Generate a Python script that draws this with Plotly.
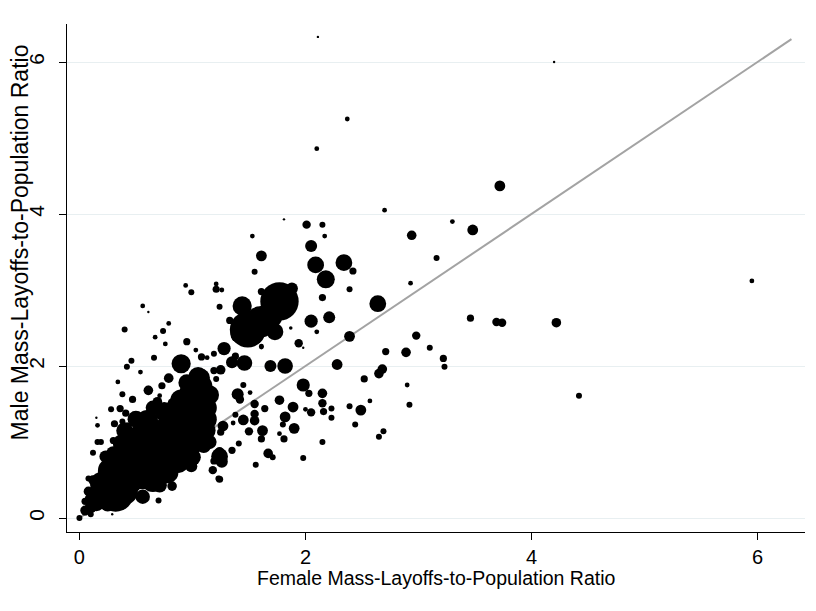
import plotly.graph_objects as go

# Female (x) and male (y) mass-layoffs-to-population ratios, marker weight
female = [
    2.11, 4.20, 2.37, 2.10, 3.72, 2.70, 3.30, 3.48, 3.16, 2.94, 2.93, 2.64, 2.01, 2.15, 2.17, 2.05,
    1.53, 1.61, 1.55, 2.09, 2.18, 2.34, 2.42, 2.39, 2.15, 1.21, 1.21, 1.26, 1.61, 1.81, 1.88, 1.77,
    1.44, 3.46, 3.69, 3.74, 4.22, 5.95, 4.42, 3.10, 3.22, 3.23, 2.39, 2.98, 2.71, 2.89, 2.28, 2.68,
    2.65, 2.52, 2.90, 1.98, 2.03, 2.15, 2.15, 2.16, 2.23, 2.23, 2.05, 2.00, 2.39, 2.49, 2.57, 2.92,
    2.44, 2.69, 2.65, 2.15, 1.98, 1.89, 1.90, 1.82, 1.80, 1.81, 1.77, 1.77, 1.62, 1.61, 1.50, 1.67,
    1.71, 1.56, 1.41, 1.55, 1.55, 1.45, 1.64, 1.55, 1.40, 1.42, 1.45, 1.51, 1.38, 1.36, 1.27, 1.25,
    1.35, 1.46, 1.69, 1.82, 1.94, 1.61, 1.28, 1.19, 1.38, 1.25, 1.19, 1.21, 1.19, 1.26, 1.24, 1.35,
    1.18, 1.23, 0.94, 0.99, 0.56, 0.61, 1.24, 0.40, 0.79, 0.74, 0.67, 0.76, 0.95, 1.03, 1.08, 1.13,
    0.66, 0.46, 0.42, 0.54, 0.34, 0.90, 0.79, 0.73, 0.61, 1.33, 1.39, 1.61, 1.73, 1.87, 1.49, 1.60,
    1.41, 2.21, 2.05, 2.10, 1.98, 0.38, 0.47, 0.28, 0.36, 0.41, 0.31, 0.38, 0.43, 0.16, 0.16, 0.19,
    0.30, 0.12, 0.08, 0.23, 0.61, 0.71, 0.69, 0.82, 1.05, 1.24, 1.24, 0.99, 0.82, 0.71, 0.70, 0.56,
    0.29, 0.10, 0.05, 0.00, 0.15, 1.68,
    0.05, 0.10, 0.15, 0.22, 0.32, 0.20, 0.28, 0.42, 0.45, 0.56, 0.60, 0.72, 0.70, 0.82, 0.85, 0.52,
    0.38, 0.30, 0.60, 0.75, 0.90, 0.95, 1.00, 0.88, 1.05, 1.06, 1.05, 1.12, 1.12, 0.15, 0.12, 0.05,
    0.40, 0.50, 0.65, 0.92, 1.10,
    0.25, 0.35, 0.50, 0.48, 0.62, 0.65, 0.78, 0.80, 0.95, 0.95, 1.00, 0.85, 0.55, 0.35, 0.18, 0.10,
    0.08, 0.25, 0.40, 0.65, 0.78, 1.00, 1.15, 1.12, 1.15, 1.08, 0.98,
]
male = [
    6.33, 6.00, 5.25, 4.86, 4.37, 4.05, 3.90, 3.79, 3.42, 3.72, 3.09, 2.82, 3.86, 3.86, 3.71, 3.58,
    3.71, 3.45, 3.24, 3.33, 3.14, 3.36, 3.25, 3.01, 2.90, 3.08, 3.01, 3.00, 2.98, 3.93, 3.02, 2.85,
    2.79, 2.63, 2.58, 2.57, 2.57, 3.12, 1.61, 2.24, 2.10, 1.99, 2.39, 2.40, 2.19, 2.18, 2.02, 1.96,
    1.90, 1.83, 1.75, 1.75, 1.64, 1.64, 1.51, 1.40, 1.44, 1.32, 1.39, 1.43, 1.47, 1.42, 1.54, 1.49,
    1.23, 1.14, 1.07, 1.00, 0.79, 1.46, 1.18, 1.33, 1.23, 1.04, 1.55, 1.11, 1.15, 1.04, 1.14, 0.85,
    0.80, 0.70, 0.98, 1.37, 1.28, 1.29, 1.44, 1.50, 1.63, 1.56, 1.75, 1.65, 1.36, 1.25, 1.21, 1.13,
    2.05, 2.04, 2.00, 2.00, 2.30, 2.26, 2.23, 2.16, 2.13, 1.95, 1.94, 1.83, 0.75, 0.74, 0.87, 0.89,
    0.63, 0.52, 3.06, 2.97, 2.79, 2.71, 2.78, 2.48, 2.56, 2.46, 2.38, 2.29, 2.32, 2.21, 2.12, 2.11,
    2.11, 2.07, 1.99, 1.92, 1.79, 2.03, 1.84, 1.74, 1.70, 2.60, 2.39, 2.25, 2.45, 2.50, 2.48, 2.58,
    2.42, 2.64, 2.59, 2.45, 2.24, 1.63, 1.56, 1.43, 1.44, 1.38, 1.24, 1.27, 1.21, 1.22, 1.00, 1.00,
    1.02, 0.86, 0.52, 0.81, 1.68, 1.61, 1.53, 1.52, 1.86, 0.81, 0.51, 0.68, 0.42, 0.43, 0.23, 0.28,
    0.05, 0.05, 0.08, 0.00, 1.32, 2.66,
    0.10, 0.14, 0.20, 0.26, 0.32, 0.45, 0.62, 0.50, 0.78, 0.60, 0.92, 0.75, 1.08, 0.92, 1.22, 1.05,
    0.98, 0.85, 1.28, 1.40, 1.55, 1.78, 1.02, 0.72, 1.30, 1.58, 1.72, 1.45, 1.15, 0.35, 0.50, 0.22,
    1.15, 1.30, 1.45, 0.85, 0.95,
    0.40, 0.55, 0.70, 0.90, 0.75, 1.05, 1.05, 1.25, 1.10, 1.35, 1.50, 1.45, 1.15, 0.72, 0.28, 0.25,
    0.35, 0.18, 0.35, 0.50, 0.60, 0.80, 1.00, 1.30, 1.62, 1.85, 1.65,
]
weight = [
    2, 2, 4, 4, 9, 4, 4, 9, 5, 8, 4, 14, 7, 5, 4, 10,
    4, 9, 5, 14, 15, 14, 6, 5, 6, 4, 6, 4, 6, 2, 10, 32,
    16, 6, 7, 7, 8, 4, 5, 5, 6, 5, 9, 7, 6, 8, 9, 8,
    8, 6, 4, 11, 6, 8, 7, 6, 5, 5, 7, 4, 5, 9, 4, 5,
    5, 5, 5, 5, 5, 9, 9, 9, 5, 6, 8, 4, 9, 6, 7, 8,
    5, 5, 5, 7, 8, 9, 6, 7, 10, 7, 5, 4, 5, 4, 9, 6,
    10, 13, 10, 13, 7, 4, 11, 5, 6, 8, 6, 5, 6, 10, 8, 6,
    7, 5, 4, 5, 4, 2, 5, 5, 4, 5, 4, 4, 6, 4, 6, 4,
    5, 5, 5, 4, 4, 16, 8, 6, 5, 6, 9, 4, 14, 3, 30, 26,
    14, 10, 11, 4, 2, 5, 6, 5, 6, 6, 6, 5, 6, 4, 5, 5,
    6, 5, 5, 10, 8, 4, 8, 7, 16, 14, 6, 10, 8, 12, 5, 12,
    2, 5, 6, 5, 2, 22,
    8, 10, 14, 18, 30, 20, 22, 26, 28, 28, 30, 28, 26, 26, 22, 20,
    16, 12, 18, 16, 18, 14, 22, 16, 20, 28, 24, 18, 16, 10, 8, 6,
    14, 14, 12, 14, 12,
    20, 24, 26, 24, 26, 24, 24, 20, 22, 20, 20, 16, 16, 18, 14, 10,
    8, 12, 22, 20, 18, 14, 12, 18, 16, 14, 18,
]

line_x = [0, 6.3]
line_y = [0, 6.3]

x_ticks = [0, 2, 4, 6]
y_ticks = [0, 2, 4, 6]

fig = go.Figure()
fig.add_trace(go.Scatter(x=line_x, y=line_y, mode="lines",
                         line=dict(color="#a3a3a3", width=2), hoverinfo="skip"))
fig.add_trace(go.Scatter(x=female, y=male, mode="markers",
                         marker=dict(color="black", size=weight, sizemode="diameter",
                                     sizeref=1 / 1.2, line=dict(width=0), opacity=1)))

font = "Liberation Sans, Arial, sans-serif"
fig.update_layout(
    width=808, height=603,
    margin=dict(l=59, r=11, t=16, b=79),
    paper_bgcolor="white", plot_bgcolor="white",
    showlegend=False,
    font=dict(family=font, color="black", size=19),
    xaxis=dict(range=[-0.11, 6.42], tickvals=x_ticks, ticks="outside", ticklen=7,
               tickcolor="black", showline=True, linecolor="black", linewidth=1.3,
               showgrid=False, zeroline=False, automargin=False,
               tickfont=dict(size=20, color="black")),
    yaxis=dict(range=[-0.184, 6.5], tickvals=y_ticks, ticks="outside", ticklen=7,
               tickcolor="black", showline=True, linecolor="black", linewidth=1.3,
               showgrid=True, gridcolor="#e8eff1", gridwidth=1.3, zeroline=False,
               automargin=False, tickangle=-90, ticklabelstandoff=6,
               tickfont=dict(size=21, color="black")),
    annotations=[
        dict(text="Female Mass-Layoffs-to-Population Ratio", xref="paper", yref="paper",
             x=0.5, y=-0.0906, xanchor="center", yanchor="middle", showarrow=False,
             font=dict(size=19.5, family=font, color="black")),
        dict(text="Male Mass-Layoffs-to-Population Ratio", xref="paper", yref="paper",
             x=-0.0637, y=0.57, xanchor="center", yanchor="middle", showarrow=False,
             textangle=-90, font=dict(size=23, family=font, color="black")),
    ],
)
fig.write_html("out.html")
